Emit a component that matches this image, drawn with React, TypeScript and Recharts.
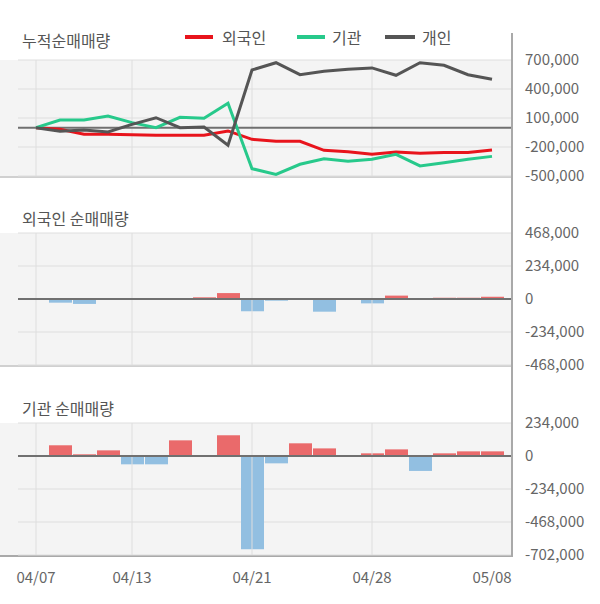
import React from 'react';
import { LineChart, BarChart, Line, Bar, Cell, XAxis, YAxis, CartesianGrid, ReferenceLine } from 'recharts';

const dates = ['04/07', '04/08', '04/09', '04/10', '04/13', '04/14', '04/16', '04/17', '04/20', '04/21', '04/22', '04/23', '04/24', '04/27', '04/28', '04/29', '05/04', '05/06', '05/07', '05/08'];

const foreignCum = [0, -17000, -69000, -69000, -72000, -79000, -79000, -79000, -34000, -121000, -141000, -141000, -234000, -248000, -276000, -252000, -265000, -258000, -258000, -231000];
const instCum = [0, 79000, 79000, 121000, 52000, 0, 107000, 97000, 252000, -424000, -483000, -379000, -321000, -348000, -327000, -276000, -396000, -362000, -327000, -297000];
const personCum = [0, -38000, -24000, -45000, 34000, 103000, 0, 7000, -182000, 597000, 672000, 548000, 583000, 604000, 618000, 542000, 672000, 645000, 548000, 500000];

const foreignDaily = [0, -26000, -35000, 0, 0, 0, 0, 12000, 42000, -87000, -12000, 0, -90000, 0, -31000, 24000, 0, 9000, 9000, 16000];
const instDaily = [0, 76000, 12000, 40000, -59000, -59000, 111000, 0, 147000, -662000, -52000, 90000, 54000, 0, 19000, 47000, -106000, 19000, 33000, 33000];

const topTicks = [-500000, -200000, 100000, 400000, 700000];
const midTicks = [-468000, -234000, 0, 234000, 468000];
const botTicks = [-702000, -468000, -234000, 0, 234000];
const xLabelTicks = ['04/07', '04/13', '04/21', '04/28', '05/08'];
const vGridDates = ['04/07', '04/13', '04/21', '04/28'];

const seriesNames = ['외국인', '기관', '개인'];
const titles = ['누적순매매량', '외국인 순매매량', '기관 순매매량'];

const data = dates.map((d, i) => ({
  date: d,
  foreign: foreignCum[i],
  inst: instCum[i],
  person: personCum[i],
  foreignDaily: foreignDaily[i],
  instDaily: instDaily[i],
}));

const FONT = "'Noto Sans CJK KR', 'Noto Sans', sans-serif";
const RED = '#e8141c';
const GREEN = '#27c98b';
const DARK = '#555555';
const BAR_RED = '#ea6a6b';
const BAR_BLUE = '#92bfe1';
const GRID = '#dedede';
const BG = '#f4f4f4';

const fmt = (v: number) => v.toLocaleString('en-US');

const tickStyle = { fill: '#666', fontSize: 15, fontFamily: FONT };

const yAxisProps = {
  orientation: 'right' as const,
  width: 88,
  axisLine: false,
  tickLine: false,
  tickSize: 0,
  tickMargin: 13,
  tick: tickStyle,
  tickFormatter: fmt,
  interval: 0 as const,
};

const margins = (top: number, bottom: number) => ({ top, right: 0, bottom, left: 18 });

export default function App() {
  const vLines = vGridDates.map((d) => (
    <ReferenceLine key={d} x={d} stroke={GRID} strokeWidth={1} />
  ));
  const titleStyle: React.CSSProperties = {
    position: 'absolute', left: 22, fontSize: 16, lineHeight: '20px', color: '#555', fontFamily: FONT, whiteSpace: 'nowrap',
  };
  const legendItems = [
    { name: seriesNames[0], color: RED, lx: 185, lw: 28, tx: 222 },
    { name: seriesNames[1], color: GREEN, lx: 297, lw: 28, tx: 332 },
    { name: seriesNames[2], color: DARK, lx: 385, lw: 30, tx: 422 },
  ];
  return (
    <div style={{ position: 'absolute', left: 0, top: 0, width: 600, height: 604, background: '#fff', fontFamily: FONT, overflow: 'hidden' }}>
      {/* plot backgrounds */}
      <div style={{ position: 'absolute', left: 0, top: 60, width: 512, height: 116, background: BG, borderBottom: '2px solid #d0d0d0' }} />
      <div style={{ position: 'absolute', left: 0, top: 233, width: 512, height: 132, background: BG, borderBottom: '2px solid #d0d0d0' }} />
      <div style={{ position: 'absolute', left: 0, top: 423, width: 512, height: 132, background: BG, borderBottom: '2px solid #a9a9a9' }} />

      {/* titles */}
      <div style={{ ...titleStyle, top: 30 }}>{titles[0]}</div>
      <div style={{ ...titleStyle, top: 208 }}>{titles[1]}</div>
      <div style={{ ...titleStyle, top: 398 }}>{titles[2]}</div>

      {/* legend */}
      {legendItems.map((it) => (
        <React.Fragment key={it.name}>
          <div style={{ position: 'absolute', left: it.lx, top: 35, width: it.lw, height: 4, background: it.color }} />
          <div style={{ position: 'absolute', left: it.tx, top: 27, fontSize: 16, lineHeight: '20px', color: '#555', fontFamily: FONT }}>{it.name}</div>
        </React.Fragment>
      ))}

      <div style={{ position: 'absolute', left: 0, top: 0 }}>
        <LineChart width={600} height={200} data={data} margin={margins(60, 24)}>
          <CartesianGrid vertical={false} stroke={GRID} />
          <XAxis dataKey="date" hide padding={{ left: 18, right: 20 }} />
          <YAxis {...yAxisProps} domain={[-500000, 700000]} ticks={topTicks} />
          {vLines}
          <ReferenceLine y={0} stroke="#707070" strokeWidth={2} />
          <Line type="linear" dataKey="foreign" stroke={RED} strokeWidth={3} dot={false} isAnimationActive={false} />
          <Line type="linear" dataKey="inst" stroke={GREEN} strokeWidth={3} dot={false} isAnimationActive={false} />
          <Line type="linear" dataKey="person" stroke={DARK} strokeWidth={3} dot={false} isAnimationActive={false} />
        </LineChart>
      </div>

      <div style={{ position: 'absolute', left: 0, top: 200 }}>
        <BarChart width={600} height={190} data={data} margin={margins(33, 25)}>
          <CartesianGrid vertical={false} stroke={GRID} />
          <XAxis dataKey="date" hide padding={{ left: 6, right: 8 }} />
          <YAxis {...yAxisProps} domain={[-468000, 468000]} ticks={midTicks} />
          {vLines}
          <Bar dataKey="foreignDaily" barSize={23} isAnimationActive={false}>
            {data.map((d) => (
              <Cell key={d.date} fill={d.foreignDaily >= 0 ? BAR_RED : BAR_BLUE} />
            ))}
          </Bar>
          <ReferenceLine y={0} stroke="#707070" strokeWidth={2} />
        </BarChart>
      </div>

      <div style={{ position: 'absolute', left: 0, top: 390 }}>
        <BarChart width={600} height={214} data={data} margin={margins(33, 19)}>
          <CartesianGrid vertical={false} stroke={GRID} />
          <XAxis
            dataKey="date"
            height={30}
            padding={{ left: 6, right: 8 }}
            ticks={xLabelTicks}
            interval={0}
            axisLine={false}
            tickLine={false}
            tickSize={0}
            tickMargin={17}
            tick={tickStyle}
          />
          <YAxis {...yAxisProps} domain={[-702000, 234000]} ticks={botTicks} />
          {vLines}
          <Bar dataKey="instDaily" barSize={23} isAnimationActive={false}>
            {data.map((d) => (
              <Cell key={d.date} fill={d.instDaily >= 0 ? BAR_RED : BAR_BLUE} />
            ))}
          </Bar>
          <ReferenceLine y={0} stroke="#707070" strokeWidth={2} />
        </BarChart>
      </div>

      {/* right axis line */}
      <div style={{ position: 'absolute', left: 511, top: 33, width: 2, height: 524, background: '#a9a9a9' }} />
    </div>
  );
}
